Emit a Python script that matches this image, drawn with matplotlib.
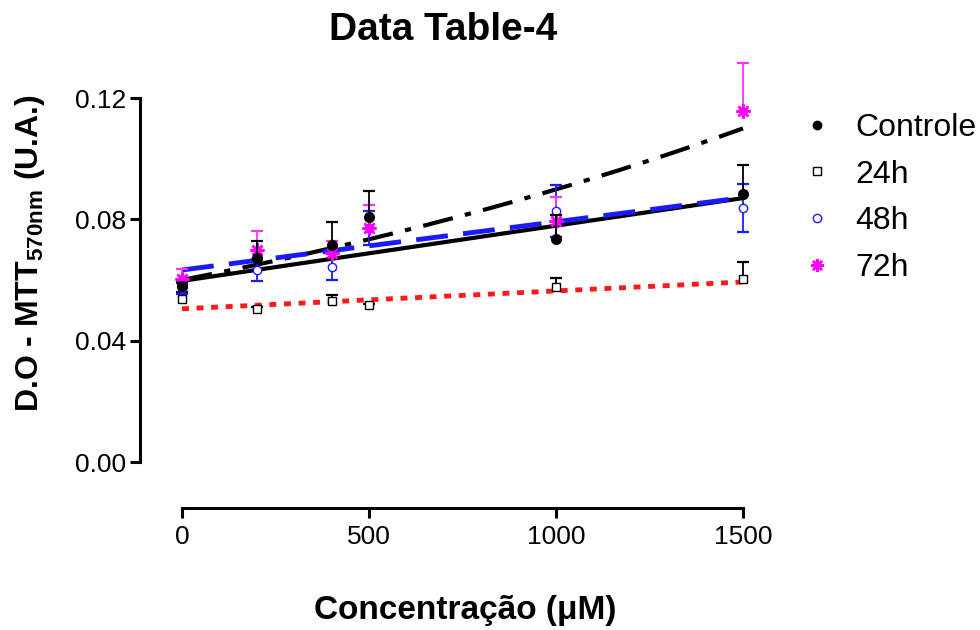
import numpy as np
import matplotlib
matplotlib.use("Agg")
import matplotlib.pyplot as plt
from matplotlib.ticker import FormatStrFormatter
from matplotlib.lines import Line2D

plt.rcParams['font.family'] = ['Liberation Sans', 'DejaVu Sans']
plt.rcParams['mathtext.fontset'] = 'custom'
plt.rcParams['mathtext.rm'] = 'Liberation Sans'
plt.rcParams['mathtext.bf'] = 'Liberation Sans:bold'
plt.rcParams['lines.scale_dashes'] = False

# ---- data ----
conc = [0, 200, 400, 500, 1000, 1500]
controle = [0.0579, 0.0672, 0.0715, 0.0808, 0.0735, 0.0884]
controle_err = [0.0010, 0.0056, 0.0076, 0.0086, 0.0079, 0.0096]
h24 = [0.0536, 0.0506, 0.0530, 0.0516, 0.0576, 0.0602]
h24_err = [0.0026, 0.0005, 0.0020, 0.0005, 0.0030, 0.0056]
h48 = [0.0575, 0.0632, 0.0642, 0.0771, 0.0828, 0.0837]
h48_err = [0.0020, 0.0036, 0.0043, 0.0056, 0.0086, 0.0080]
h72 = [0.0602, 0.0698, 0.0688, 0.0771, 0.0794, 0.1158]
h72_err = [0.0033, 0.0063, 0.0040, 0.0076, 0.0079, 0.0156]

# fitted curves (intercept, slope)
fit_solid_black = (0.0597, 1.82e-5)
fit_blue_dashed = (0.0633, 1.59e-5)
fit_red_dotted = (0.0505, 5.9e-6)
fit_exp_black = (0.0600, 4.04e-4)  # a * exp(k*x)

x_ticks = [0, 500, 1000, 1500]
y_ticks = [0.00, 0.04, 0.08, 0.12]

BLUE = '#1a1aff'
MAG = '#ff00ff'

fig = plt.figure(figsize=(9.8, 6.3), dpi=100)
ax = fig.add_axes([182/980, 1-462/630, (743-182)/980, (462-98)/630])
ax.set_xlim(0, 1500)
ax.set_ylim(0, 0.12)

xs = np.linspace(0, 1500, 200)
ax.plot(xs, fit_red_dotted[0] + fit_red_dotted[1]*xs, color='#ff1a1a', lw=3.5,
        dashes=(5, 5.5), zorder=2, clip_on=False, dash_capstyle='butt')
ax.plot(xs, fit_solid_black[0] + fit_solid_black[1]*xs, color='black', lw=3.0,
        zorder=2, clip_on=False)
ax.plot(xs, fit_exp_black[0]*np.exp(fit_exp_black[1]*xs), color='black', lw=3.0,
        dashes=(22, 9, 4.5, 9), zorder=2, clip_on=False, dash_capstyle='butt')
ax.plot(xs, fit_blue_dashed[0] + fit_blue_dashed[1]*xs, color=BLUE, lw=3.5,
        dashes=(23, 11), zorder=2.5, clip_on=False, dash_capstyle='butt')


def err_bars(x, y, e, color, both=False, z=2.8):
    x = np.asarray(x, float)
    y = np.asarray(y, float)
    e = np.asarray(e, float)
    lo = y - e if both else y
    ax.vlines(x, lo, y + e, color=color, lw=1.3, zorder=z, clip_on=False)
    ax.plot(x, y + e, linestyle='none', marker='_', ms=9, mew=1.6, color=color,
            zorder=z, clip_on=False)
    if both:
        ax.plot(x, y - e, linestyle='none', marker='_', ms=9, mew=1.6, color=color,
                zorder=z, clip_on=False)


err_bars(conc, h24, h24_err, 'black')
err_bars(conc, h48, h48_err, BLUE, both=True)
err_bars(conc, h72, h72_err, '#ff33ff')
err_bars(conc, controle, controle_err, 'black', z=3.4)

ax.plot(conc, h24, linestyle='none', marker='s', ms=6, mfc='white', mec='black', mew=1.0,
        zorder=3, clip_on=False)
ax.plot(conc, h48, linestyle='none', marker='o', ms=6, mfc='white', mec=BLUE, mew=1.0,
        zorder=3, clip_on=False)
ax.plot(conc, h72, linestyle='none', marker=(8, 2, 0), ms=10, mew=1.8, color=MAG,
        zorder=3.2, clip_on=False)
ax.plot(conc, controle, linestyle='none', marker='o', ms=7, color='black',
        zorder=3.5, clip_on=False)

# axes styling
for s in ['top', 'right']:
    ax.spines[s].set_visible(False)
ax.spines['left'].set_position(('outward', 30))
ax.spines['bottom'].set_position(('outward', 33))
ax.spines['left'].set_linewidth(2.2)
ax.spines['bottom'].set_linewidth(2.2)
ax.tick_params(axis='both', width=2.2, length=7.5, labelsize=19, direction='out')
ax.tick_params(axis='x', pad=5)
ax.tick_params(axis='y', pad=3)
ax.set_xticks(x_ticks)
ax.set_yticks(y_ticks)
ax.yaxis.set_major_formatter(FormatStrFormatter('%.2f'))

fig.text(443/980, 1-30/630, 'Data Table-4', ha='center', va='center',
         fontsize=28, fontweight='bold')
fig.text(465/980, 1-610/630, 'Concentração (μM)', ha='center', va='center',
         fontsize=24, fontweight='bold')
fig.text(30/980, 1-253/630, r'D.O - MTT$_{\mathbf{570nm}}$ (U.A.)', ha='center', va='center',
         rotation=90, fontsize=23, fontweight='bold')

labels = ['Controle', '24h', '48h', '72h']
handles = [
    Line2D([], [], linestyle='none', marker='o', ms=6, color='black'),
    Line2D([], [], linestyle='none', marker='s', ms=6, mfc='white', mec='black', mew=1.0),
    Line2D([], [], linestyle='none', marker='o', ms=6, mfc='white', mec=BLUE, mew=1.0),
    Line2D([], [], linestyle='none', marker=(8, 2, 0), ms=9, mew=1.8, color=MAG),
]
fig.legend(handles, labels, loc='upper left',
           bbox_to_anchor=(807/980, 1-113/630), frameon=False, fontsize=23,
           handlelength=0.62, handletextpad=0.9, labelspacing=0.52,
           borderpad=0, borderaxespad=0)

fig.savefig('out.png', dpi=100)
